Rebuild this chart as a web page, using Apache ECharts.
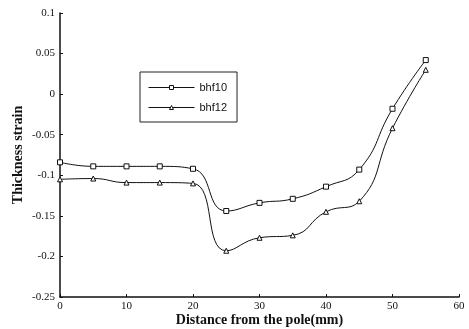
<!DOCTYPE html>
<html>
<head>
<meta charset="utf-8">
<script src="https://cdn.jsdelivr.net/npm/echarts@6/dist/echarts.min.js"></script>
<style>
  html, body { margin: 0; padding: 0; background: #fff; }
  #chart { width: 469px; height: 329px; }
</style>
</head>
<body>
<div id="chart"></div>
<script>
// distance from the pole (mm)
const distances = [0, 5, 10, 15, 20, 25, 30, 35, 40, 45, 50, 55];
const bhf10 = [-0.084, -0.089, -0.089, -0.089, -0.092, -0.144, -0.134, -0.129, -0.114, -0.093, -0.018, 0.042];
const bhf12 = [-0.105, -0.104, -0.109, -0.109, -0.110, -0.193, -0.177, -0.174, -0.145, -0.132, -0.042, 0.030];

const pairs = (ys) => distances.map((x, i) => [x, ys[i]]);

const serif = '"Liberation Serif", "DejaVu Serif", serif';
const chart = echarts.init(document.getElementById('chart'), null, { renderer: 'canvas' });

const makeSeries = (name, data, symbol) => ({
  name,
  type: 'line',
  data: pairs(data),
  smooth: 0.5,
  symbol,
  symbolSize: 5,
  showAllSymbol: true,
  lineStyle: { color: '#111', width: 1 },
  itemStyle: { color: '#fff', borderColor: '#111', borderWidth: 1 },
  emphasis: { disabled: true },
});

chart.setOption({
  animation: false,
  backgroundColor: '#fff',
  grid: { left: 60, right: 10, top: 13, bottom: 32, outerBoundsMode: 'none' },
  legend: {
    left: 140,
    top: 72,
    orient: 'vertical',
    itemWidth: 46,
    itemHeight: 5,
    itemGap: 9,
    padding: [10, 10, 9, 8],
    borderColor: '#222',
    borderWidth: 1,
    itemStyle: { borderWidth: 1 },
    lineStyle: { width: 1 },
    textStyle: { fontFamily: '"Liberation Sans", Arial, sans-serif', fontSize: 11, color: '#111' },
    data: ['bhf10', 'bhf12'],
  },
  xAxis: {
    type: 'value',
    min: 0,
    max: 60,
    interval: 10,
    name: 'Distance from the pole(mm)',
    nameLocation: 'middle',
    nameGap: 16,
    nameMoveOverlap: false,
    nameTextStyle: { fontFamily: serif, fontWeight: 'bold', fontSize: 14, color: '#111' },
    axisLine: { show: true, onZero: false, lineStyle: { color: '#111', width: 1.5 } },
    axisTick: { show: true, inside: true, length: 3, lineStyle: { color: '#111' } },
    axisLabel: { fontFamily: serif, fontSize: 11, color: '#111', margin: 4 },
    splitLine: { show: false },
  },
  yAxis: {
    type: 'value',
    min: -0.25,
    max: 0.1,
    interval: 0.05,
    name: 'Thickness strain',
    nameLocation: 'middle',
    nameGap: 35,
    nameMoveOverlap: false,
    nameTextStyle: { fontFamily: serif, fontWeight: 'bold', fontSize: 14, color: '#111' },
    axisLine: { show: true, onZero: false, lineStyle: { color: '#111', width: 1.5 } },
    axisTick: { show: true, inside: true, length: 3, lineStyle: { color: '#111' } },
    axisLabel: {
      fontFamily: serif, fontSize: 11, color: '#111', margin: 5,
      formatter: (v) => String(Math.round(v * 100) / 100),
    },
    splitLine: { show: false },
  },
  series: [
    makeSeries('bhf10', bhf10, 'rect'),
    makeSeries('bhf12', bhf12, 'triangle'),
  ],
});
</script>
</body>
</html>
